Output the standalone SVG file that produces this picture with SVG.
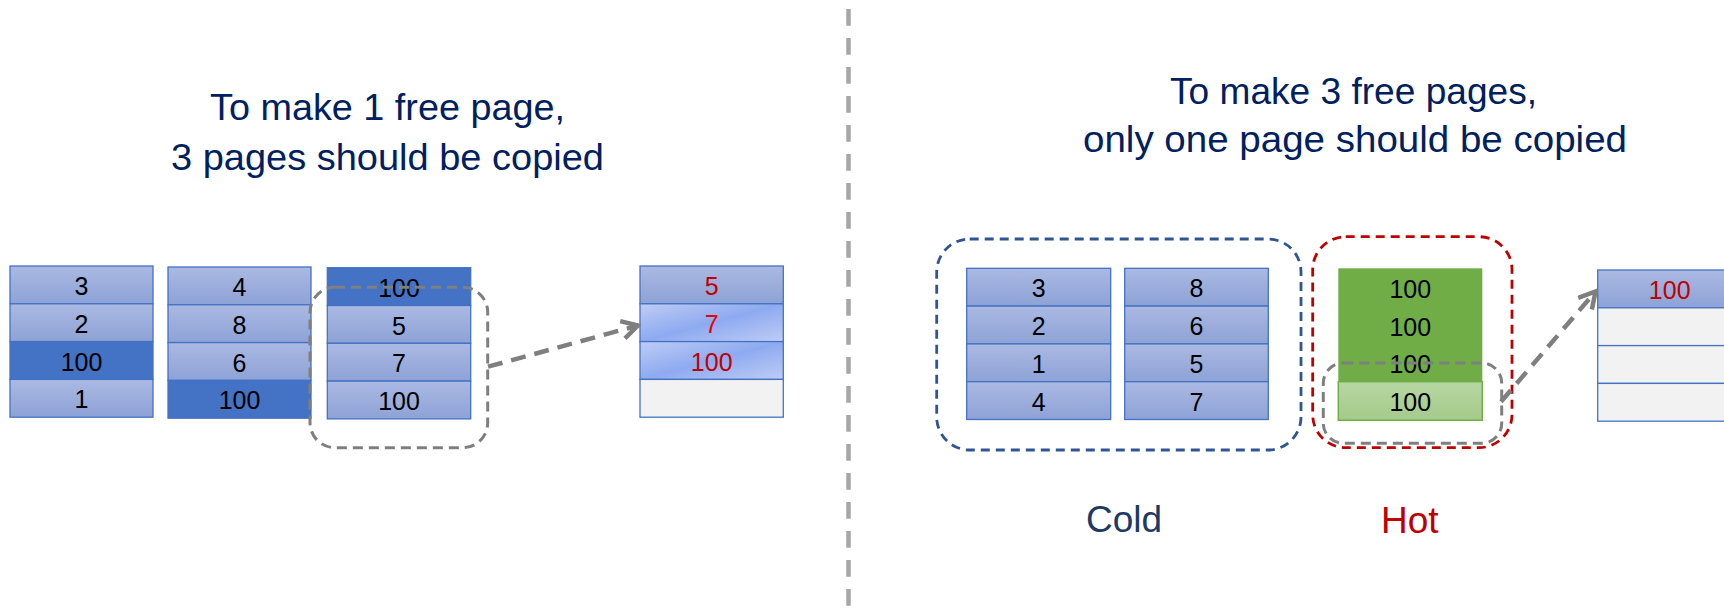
<svg xmlns="http://www.w3.org/2000/svg" width="1724" height="610" viewBox="0 0 1724 610">
  <style>
    .title { font-family: "Liberation Sans", Arial, sans-serif; font-size: 37.5px; fill: #002060; }
    .label { font-family: "Liberation Sans", Arial, sans-serif; font-size: 37px; }
    .cell { stroke: #4472c4; stroke-width: 1.3; }
    .blue { fill: url(#cellBlue); }
    .dark { fill: #4472c4; }
    .lite { fill: url(#cellLight); }
    .empty { fill: #f2f2f2; }
    .num { font-family: "Liberation Sans", Arial, sans-serif; font-size: 25px; text-anchor: middle; fill: #000000; }
    .red { fill: #c00000; }
    .bright { fill: #ee0000; }
    .group-box { fill: none; stroke-width: 2.8; stroke-dasharray: 9 6; }
    .sel-box { fill: none; stroke: #7f7f7f; stroke-width: 3; stroke-dasharray: 10 6; }
    .move { fill: none; stroke: #7f7f7f; stroke-width: 4.5; stroke-dasharray: 15 9; }
  </style>
  <defs>
    <linearGradient id="cellBlue" x1="0" y1="0" x2="0" y2="1">
      <stop offset="0" stop-color="#abb9e3"/>
      <stop offset="1" stop-color="#8da2d6"/>
    </linearGradient>
    <linearGradient id="cellLight" x1="0" y1="0" x2="1" y2="1">
      <stop offset="0" stop-color="#bfcdf6"/>
      <stop offset="0.5" stop-color="#8eaaf0"/>
      <stop offset="1" stop-color="#bfcdf6"/>
    </linearGradient>
    <linearGradient id="cellGreen" x1="0" y1="0" x2="0" y2="1">
      <stop offset="0" stop-color="#b7d7a2"/>
      <stop offset="1" stop-color="#a5ca8b"/>
    </linearGradient>
    <marker id="chevron" viewBox="0 0 22 22" refX="19" refY="11" markerWidth="22" markerHeight="22" markerUnits="userSpaceOnUse" orient="auto">
      <path d="M3,2 L19,11 L3,20" fill="none" stroke="#7f7f7f" stroke-width="4.5"/>
    </marker>
  </defs>

  <rect width="1724" height="610" fill="#ffffff"/>

  <!-- divider between the two cases -->
  <line x1="848.5" y1="9" x2="848.5" y2="610" stroke="#a6a6a6" stroke-width="4.5" stroke-dasharray="16.7 12.3"/>

  <!-- headings -->
  <g id="titles">
    <text class="title" x="210" y="120" textLength="355" lengthAdjust="spacingAndGlyphs">To make 1 free page,</text>
    <text class="title" x="171" y="170" textLength="433" lengthAdjust="spacingAndGlyphs">3 pages should be copied</text>
    <text class="title" x="1170" y="104" textLength="367" lengthAdjust="spacingAndGlyphs">To make 3 free pages,</text>
    <text class="title" x="1083" y="152" textLength="544" lengthAdjust="spacingAndGlyphs">only one page should be copied</text>
  </g>

  <!-- left case: blocks -->
  <g id="block-a">
    <rect class="cell blue" x="10" y="266" width="143" height="37.8"/>
    <rect class="cell blue" x="10" y="303.8" width="143" height="37.8"/>
    <rect class="cell dark" x="10" y="341.6" width="143" height="37.8"/>
    <rect class="cell blue" x="10" y="379.4" width="143" height="37.8"/>
    <text class="num" x="81.5" y="295">3</text>
    <text class="num" x="81.5" y="332.8">2</text>
    <text class="num" x="81.5" y="370.6">100</text>
    <text class="num" x="81.5" y="408.4">1</text>
  </g>
  <g id="block-b">
    <rect class="cell blue" x="168" y="267" width="143" height="37.8"/>
    <rect class="cell blue" x="168" y="304.8" width="143" height="37.8"/>
    <rect class="cell blue" x="168" y="342.6" width="143" height="37.8"/>
    <rect class="cell dark" x="168" y="380.4" width="143" height="37.8"/>
    <text class="num" x="239.5" y="296">4</text>
    <text class="num" x="239.5" y="333.8">8</text>
    <text class="num" x="239.5" y="371.6">6</text>
    <text class="num" x="239.5" y="409.4">100</text>
  </g>
  <g id="block-c">
    <rect class="cell dark" x="327.3" y="267.7" width="143.4" height="37.8"/>
    <rect class="cell blue" x="327.3" y="305.5" width="143.4" height="37.8"/>
    <rect class="cell blue" x="327.3" y="343.3" width="143.4" height="37.8"/>
    <rect class="cell blue" x="327.3" y="381.1" width="143.4" height="37.8"/>
    <text class="num" x="399" y="296.7">100</text>
    <text class="num" x="399" y="334.5">5</text>
    <text class="num" x="399" y="372.3">7</text>
    <text class="num" x="399" y="410.1">100</text>
  </g>
  <g id="block-c-selection">
    <rect class="sel-box" x="310" y="287.3" width="177.7" height="160.4" rx="25"/>
  </g>
  <g id="free-block-left">
    <rect class="cell blue" x="640" y="266" width="143.3" height="37.8"/>
    <rect class="cell lite" x="640" y="303.8" width="143.3" height="37.8"/>
    <rect class="cell lite" x="640" y="341.6" width="143.3" height="37.8"/>
    <rect class="cell empty" x="640" y="379.4" width="143.3" height="37.8"/>
    <text class="num red" x="711.7" y="295">5</text>
    <text class="num bright" x="711.7" y="332.8">7</text>
    <text class="num red" x="711.7" y="370.6">100</text>
  </g>

  <!-- right case: cold blocks -->
  <g id="cold-group">
    <rect class="group-box" x="936.7" y="239" width="364.3" height="211" rx="33" stroke="#2f5597"/>
  </g>
  <g id="block-d">
    <rect class="cell blue" x="966.7" y="268.3" width="144" height="37.8"/>
    <rect class="cell blue" x="966.7" y="306.1" width="144" height="37.8"/>
    <rect class="cell blue" x="966.7" y="343.9" width="144" height="37.8"/>
    <rect class="cell blue" x="966.7" y="381.7" width="144" height="37.8"/>
    <text class="num" x="1038.7" y="297.3">3</text>
    <text class="num" x="1038.7" y="335.1">2</text>
    <text class="num" x="1038.7" y="372.9">1</text>
    <text class="num" x="1038.7" y="410.7">4</text>
  </g>
  <g id="block-e">
    <rect class="cell blue" x="1124.7" y="268.3" width="143.6" height="37.8"/>
    <rect class="cell blue" x="1124.7" y="306.1" width="143.6" height="37.8"/>
    <rect class="cell blue" x="1124.7" y="343.9" width="143.6" height="37.8"/>
    <rect class="cell blue" x="1124.7" y="381.7" width="143.6" height="37.8"/>
    <text class="num" x="1196.5" y="297.3">8</text>
    <text class="num" x="1196.5" y="335.1">6</text>
    <text class="num" x="1196.5" y="372.9">5</text>
    <text class="num" x="1196.5" y="410.7">7</text>
  </g>

  <!-- right case: hot block -->
  <g id="hot-group">
    <rect class="group-box" x="1312.7" y="236.7" width="199.3" height="211" rx="33" stroke="#c00000"/>
  </g>
  <g id="block-hot">
    <rect x="1338.3" y="268.3" width="144" height="113.4" fill="#70ad47"/>
    <rect x="1338.3" y="381.7" width="144" height="38.6" fill="url(#cellGreen)" stroke="#70ad47" stroke-width="1.5"/>
    <text class="num" x="1410.3" y="297.8">100</text>
    <text class="num" x="1410.3" y="335.6">100</text>
    <text class="num" x="1410.3" y="373.4">100</text>
    <text class="num" x="1410.3" y="411.2">100</text>
  </g>
  <g id="block-hot-selection">
    <rect class="sel-box" x="1323.3" y="363" width="178.4" height="80.3" rx="20"/>
  </g>
  <g id="free-block-right">
    <rect class="cell blue" x="1597.7" y="270" width="144" height="37.8"/>
    <rect class="cell empty" x="1597.7" y="307.8" width="144" height="37.8"/>
    <rect class="cell empty" x="1597.7" y="345.6" width="144" height="37.8"/>
    <rect class="cell empty" x="1597.7" y="383.4" width="144" height="37.8"/>
    <text class="num red" x="1669.7" y="299">100</text>
  </g>

  <!-- group labels -->
  <g id="labels">
    <text class="label" x="1086" y="532" fill="#203864">Cold</text>
    <text class="label" x="1381" y="533" fill="#c00000">Hot</text>
  </g>

  <!-- copy arrows -->
  <g id="connectors">
    <line class="move" x1="488" y1="366.7" x2="638" y2="325.5" marker-end="url(#chevron)"/>
    <line class="move" x1="1501" y1="401.7" x2="1595.5" y2="291.5" marker-end="url(#chevron)"/>
  </g>
</svg>
